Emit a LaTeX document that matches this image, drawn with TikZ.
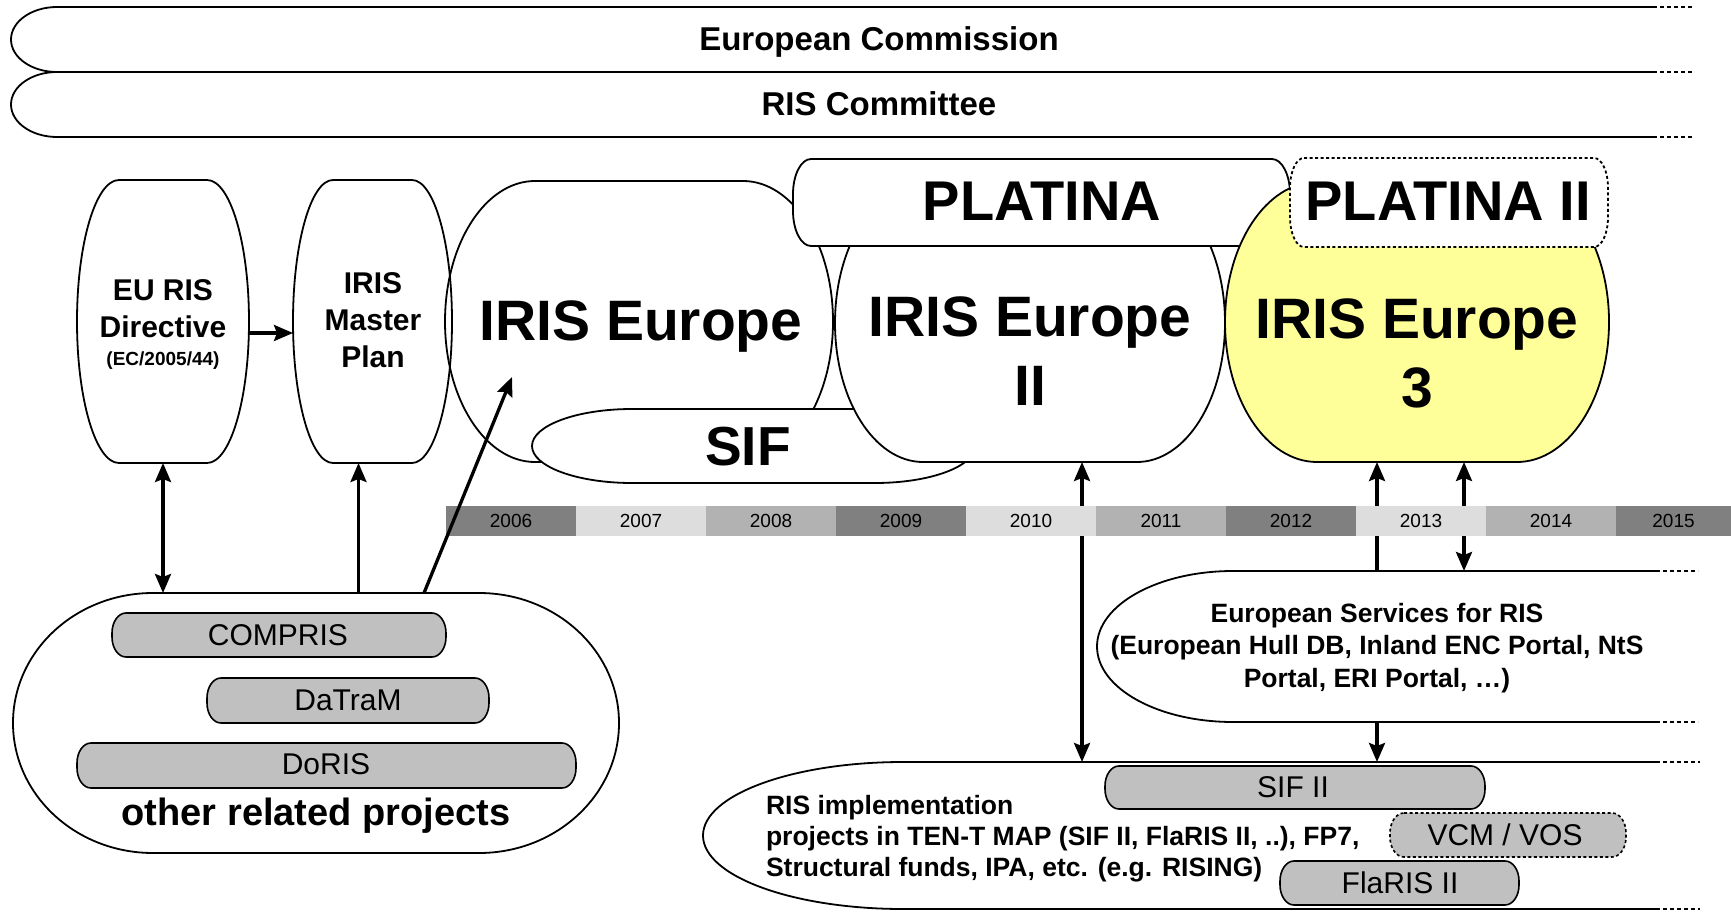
\documentclass[tikz,border=0pt]{standalone}
\usepackage{fontspec}
\setmainfont{Liberation Sans}
\usetikzlibrary{arrows.meta}
\definecolor{ydark}{HTML}{808080}
\definecolor{ylight}{HTML}{DDDDDD}
\definecolor{ymid}{HTML}{B2B2B2}
\definecolor{gbox}{HTML}{C0C0C0}
\definecolor{irisyellow}{HTML}{FFFF99}
% shape with elliptical corners: name, style, L, T, R, B, rx, ry
\newcommand{\eshape}[8]{%
 \path[#2] ({#3+#7},#4) -- ({#5-#7},#4)
   arc[start angle=90,end angle=0,x radius=#7pt,y radius=#8pt] -- (#5,{#6-#8})
   arc[start angle=0,end angle=-90,x radius=#7pt,y radius=#8pt] -- ({#3+#7},#6)
   arc[start angle=-90,end angle=-180,x radius=#7pt,y radius=#8pt] -- (#3,{#4+#8})
   arc[start angle=180,end angle=90,x radius=#7pt,y radius=#8pt] -- cycle;
 \node[anch,minimum width={#5-#3},minimum height={#6-#4}] (#1) at ({(#3+#5)/2},{(#4+#6)/2}) {};
}
% open band with rounded left end: name, L, T, R, B, rx, dotted end, ry
\newcommand{\bandshape}[8]{%
 \draw[outline] (#4,#3) -- ({#2+#6},#3)
   arc[start angle=90,end angle=270,x radius=#6pt,y radius=#8pt] -- (#4,#5);
 \draw[outline,dotline] (#4,#3) -- (#7,#3) (#4,#5) -- (#7,#5);
 \node[anch,minimum width={#4-#2},minimum height={#5-#3}] (#1) at ({(#2+#4)/2},{(#3+#5)/2}) {};
}
\tikzset{
 anch/.style={inner sep=0pt,outer sep=0pt},
 outline/.style={draw=black,line width=1.8pt},
 dotline/.style={dash pattern=on 4pt off 3pt},
 whitebox/.style={outline,fill=white},
 graybox/.style={draw=black,line width=1.6pt,fill=gbox},
 txt/.style={inner sep=0pt,outer sep=0pt,align=center},
 bigtxt/.style={txt,font=\bfseries\fontsize{57}{69}\selectfont},
 midtxt/.style={txt,font=\bfseries\fontsize{30}{37}\selectfont},
 bandtxt/.style={txt,font=\bfseries\fontsize{33}{40}\selectfont},
 graytxt/.style={txt,font=\fontsize{30}{36}\selectfont},
 smalltxt/.style={txt,font=\bfseries\fontsize{26.5}{32.5}\selectfont},
 yr/.style={inner sep=0pt,outer sep=0pt,minimum height=30pt,minimum width=130pt,font=\fontsize{19}{22}\selectfont},
 tip/.tip={Stealth[length=19pt,width=16pt,inset=3pt]},
 arr/.style={line width=3.3pt,-tip},
 dbl/.style={line width=3.3pt,tip-tip},
}
\begin{document}
\begin{tikzpicture}[x=1pt,y=-1pt]
\useasboundingbox (0,0) rectangle (1731,912);
% top bands
\bandshape{ec}{11}{7}{1653}{72}{46}{1694}{32.5}
\bandshape{risc}{11}{72}{1653}{137}{46}{1694}{32.5}
\node[bandtxt,anchor=base] (tec) at (879,51) {European Commission};
\node[bandtxt,anchor=base] (trisc) at (879,116) {RIS Committee};
% upper shapes
\eshape{dir}{outline}{77}{180}{249}{463}{42}{141.5}
\eshape{ie}{whitebox}{445}{181}{833}{462}{90}{140.5}
\eshape{master}{outline}{293}{180}{452}{463}{40}{141.5}
\eshape{sif}{whitebox}{532}{409}{975}{483}{100}{37}
\eshape{ie2}{whitebox}{835}{184}{1225}{462}{88}{139}
\eshape{platina}{whitebox}{793}{159}{1290}{246}{18}{35}
\eshape{ie3}{outline,fill=irisyellow}{1225}{182}{1609}{462}{92}{140}
\eshape{platina2}{outline,fill=white,dash pattern=on 3pt off 2.5pt}{1290}{158}{1608}{247}{14}{30}
\node[midtxt,anchor=north] (tdir) at (163,280) {EU RIS\\Directive\\[-9pt]{\fontsize{19}{22}\selectfont (EC/2005/44)}};
\node[midtxt,anchor=north] (tmaster) at (373,273) {IRIS\\Master\\Plan};
\node[bigtxt,anchor=base] (tie) at (641,340) {IRIS Europe};
\node[txt,font=\bfseries\fontsize{55}{66}\selectfont,anchor=base] (tsif) at (748,465) {SIF};
\node[bigtxt,anchor=north] (tie2) at (1030,297) {IRIS Europe\\II};
\node[bigtxt,anchor=north] (tie3) at (1417,299) {IRIS Europe\\3};
\node[txt,font=\bfseries\fontsize{56}{66}\selectfont,anchor=base] (tplatina) at (1042,220) {PLATINA};
\node[txt,font=\bfseries\fontsize{56}{66}\selectfont,anchor=base] (tplatina2) at (1448,220) {PLATINA II};
% other related projects
\eshape{other}{outline}{13}{593}{619}{853}{140}{130}
\eshape{compris}{graybox}{112}{613}{446}{657}{14}{20}
\eshape{datram}{graybox}{207}{678}{489}{723}{14}{20}
\eshape{doris}{graybox}{77}{743}{576}{788}{14}{20}
\node[graytxt,anchor=base] (tcompris) at (278,645) {COMPRIS};
\node[graytxt,anchor=base] (tdatram) at (348,710) {DaTraM};
\node[graytxt,anchor=base] (tdoris) at (326,774) {DoRIS};
\node[txt,font=\bfseries\fontsize{38}{44}\selectfont,anchor=base] (tother) at (316,825) {other related projects};
% lower right bands
\bandshape{esr}{1097}{571}{1656}{722}{136}{1698}{75.5}
\bandshape{impl}{703}{762}{1656}{909}{200}{1700}{73.5}
\node[smalltxt,anchor=north] (tesr) at (1377,603) {European Services for RIS\\(European Hull DB, Inland ENC Portal, NtS\\Portal, ERI Portal, \dots)};
\node[txt,align=left,font=\bfseries\fontsize{26.5}{31}\selectfont,anchor=north west] (timpl) at (766,795) {RIS implementation\\projects in TEN-T MAP (SIF II, FlaRIS II, ..), FP7,\\Structural funds, IPA, etc. (e.g. RISING)};
\eshape{sif2}{graybox}{1105}{766}{1485}{809}{14}{20}
\eshape{vcm}{graybox,dash pattern=on 3pt off 2.5pt}{1390}{813}{1626}{857}{14}{20}
\eshape{flaris}{graybox}{1280}{861}{1519}{905}{14}{20}
\node[graytxt,anchor=base] (tsif2) at (1293,797) {SIF II};
\node[graytxt,anchor=base] (tvcm) at (1505,845) {VCM / VOS};
\node[graytxt,anchor=base] (tflaris) at (1400,893) {FlaRIS II};
% vertical connectors (under the timeline)
\draw[dbl] (dir.south) -- (dir.south |- other.north);
\coordinate (mp) at ([xshift=-14pt]master.south);
\draw[arr] (mp |- other.north) -- (mp);
\draw[arr] (dir.east |- 0,333) -- (master.west |- 0,333);
\coordinate (a1) at ([xshift=52pt]ie2.south);
\draw[dbl] (a1) -- (a1 |- impl.north);
\coordinate (a2) at ([xshift=-40pt]ie3.south);
\draw[arr] (a2 |- esr.north) -- (a2);
\draw[arr] (a2 |- esr.south) -- (a2 |- impl.north);
\coordinate (a3) at ([xshift=47pt]ie3.south);
\draw[dbl] (a3) -- (a3 |- esr.north);
% timeline
\node[yr,fill=ydark] (y2006) at (511,521) {2006};
\node[yr,fill=ylight] (y2007) at (641,521) {2007};
\node[yr,fill=ymid] (y2008) at (771,521) {2008};
\node[yr,fill=ydark] (y2009) at (901,521) {2009};
\node[yr,fill=ylight] (y2010) at (1031,521) {2010};
\node[yr,fill=ymid] (y2011) at (1161,521) {2011};
\node[yr,fill=ydark] (y2012) at (1291,521) {2012};
\node[yr,fill=ylight] (y2013) at (1421,521) {2013};
\node[yr,fill=ymid] (y2014) at (1551,521) {2014};
\node[yr,fill=ydark,minimum width=115pt] (y2015) at (1673.5,521) {2015};
% diagonal connector
\coordinate (dstart) at ([xshift=108pt]other.north);
\coordinate (dtip) at (512,377);
\draw[arr] (dstart) -- (dtip);
\end{tikzpicture}
\end{document}
